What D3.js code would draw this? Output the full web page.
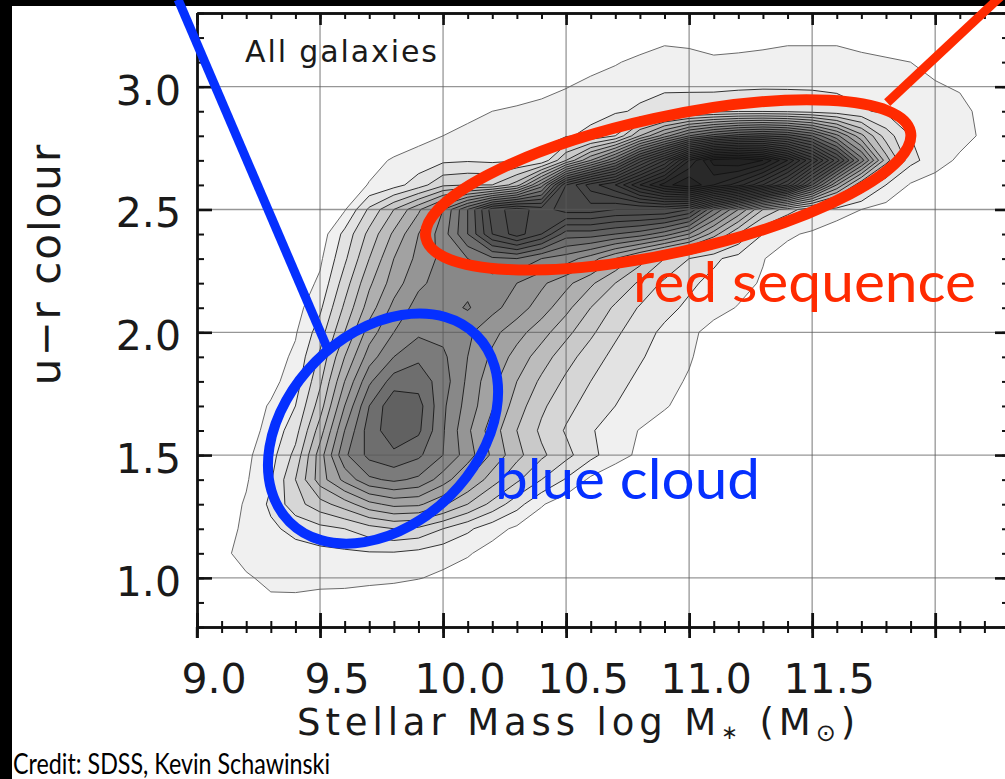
<!DOCTYPE html>
<html><head><meta charset="utf-8">
<script src="https://cdn.jsdelivr.net/npm/d3@7"></script>
<style>
html,body{margin:0;padding:0;background:#000;overflow:hidden;}
svg{display:block;}
</style></head><body>
<svg id="chart" width="1005" height="779"></svg>
<script>
// ---- grid axes of the density map (log stellar mass, u-r colour) ----
const massValues = [9.0,9.1,9.2,9.3,9.4,9.5,9.6,9.7,9.8,9.9,10.0,10.1,10.2,10.3,10.4,10.5,10.6,10.7,10.8,10.9,11.0,11.1,11.2,11.3,11.4,11.5,11.6,11.7,11.8,11.9,12.0,12.1,12.2,12.3];
const colourValues = [3.3,3.2,3.1,3.0,2.9,2.8,2.7,2.6,2.5,2.4,2.3,2.2,2.1,2.0,1.9,1.8,1.7,1.6,1.5,1.4,1.3,1.2,1.1,1.0,0.9,0.8];
// ---- galaxy density (in contour-level units), one row per colour value ----
const densityRows = [
[0,0,0,0,0,0,0,0,0,0, 0,0,0,0,0,0,0,0,0,0, 0,0,0,0,0,0,0,0,0,0, 0,0,0,0],
[0,0,0,0,0,0,0,0,0,0, 0,0,0,0,0,0,0,0,0.3,0.7, 0.6,0.5,0.5,0.6,0.7,0.7,0.7,0.4,0.2,0, 0,0,0,0],
[0,0,0,0,0,0,0,0,0,0, 0,0,0,0,0,0,0.6,0.9,1.3,1.6, 1.5,1.2,1.3,1.4,1.6,1.6,1.6,1.4,1.2,1.0, 0.7,0.3,0,0],
[0,0,0,0,0,0,0,0,0,0, 0,0,0,0.3,0.6,0.95,1.3,1.6,1.8,1.9, 1.85,1.8,1.85,1.9,1.9,1.9,1.85,1.7,1.6,1.4, 1.1,0.9,0.4,0],
[0,0,0,0,0,0,0,0,0,0.3, 0.6,0.8,1.0,1.2,1.4,1.6,1.75,1.9,2.1,2.3, 2.5,2.7,2.9,2.9,2.8,2.6,2.4,2.1,1.85,1.7, 1.5,1.3,0.7,0],
[0,0,0,0,0,0,0,0,0.4,0.7, 1.0,1.2,1.4,1.6,1.8,1.9,2.2,3.0,6,8.5, 11,12.5,13.5,14,13.5,12,9.3,6.3,3.5,2.0, 1.7,1.4,0.8,0],
[0,0,0,0,0,0,0,0.7,1.1,1.4, 1.8,1.9,1.8,1.9,2.2,5,8,11,15.5,19, 24,27.5,28,27,24,20,15.5,10.5,5.5,2.3, 1.5,0.8,0.3,0],
[0,0,0,0,0,0,0.5,1.05,1.6,2.5, 3.8,4,4,5.5,9.5,16,18.5,20,23,25.5, 27,25,23.5,21,18,13,8,4,2,0.9, 0.5,0.2,0,0],
[0,0,0,0,0,0.4,0.9,3.2,5,6.8, 9,12,15.5,16.5,15.5,16.5,16.5,16,16,16, 15,11,8,5,3.5,2.3,1.6,1.0,0.6,0.2, 0,0,0,0],
[0,0,0,0,0,0.4,2.3,4.3,6.2,8, 9.5,12,15,16.5,15,12.5,12.5,12,11.5,10.5, 9,6.5,4,2,1.2,0.8,0.3,0,0,0, 0,0,0,0],
[0,0,0,0,0.2,0.8,2.8,5,7,8.3, 9.3,10,10.8,11,10,9.5,8.5,7,5.5,4, 3,2.2,1.6,1.05,0.5,0,0,0,0,0, 0,0,0,0],
[0,0,0,0,0.3,1.2,3.5,5.8,7.5,8.8, 9.4,9.7,9.5,9,8.2,7.3,6.2,5,3.8,2.8, 2.2,1.7,1.3,0.9,0.4,0,0,0,0,0, 0,0,0,0],
[0,0,0,0,0.6,1.8,4.2,6.5,8.3,9.4, 9.6,10.1,9.3,8.5,7.5,6.3,5.0,3.8,2.9,2.3, 1.8,1.3,0.95,0.5,0,0,0,0,0,0, 0,0,0,0],
[0,0,0,0.3,0.9,2.5,5,7.5,9,9.8, 9.7,9.2,8.3,7.4,6.4,5.3,4.2,3.2,2.4,1.8, 1.2,0.7,0.3,0,0,0,0,0,0,0, 0,0,0,0],
[0,0,0,0.5,1.2,3.2,6,8.5,10,10.8, 10.2,9,7.8,6.6,5.5,4.4,3.5,2.7,2.1,1.6, 1.1,0.5,0,0,0,0,0,0,0,0, 0,0,0,0],
[0,0,0.2,0.7,1.5,3.8,7,9.8,11.5,11.6, 10.5,8.8,7.3,6,4.8,3.8,3.0,2.3,1.8,1.3, 0.9,0.4,0,0,0,0,0,0,0,0, 0,0,0,0],
[0,0,0.5,1.1,2.0,4.5,8,11,12.8,12.4, 10.2,8.6,7.1,5.5,4.2,3.3,2.6,2.0,1.6,1.1, 0.6,0.2,0,0,0,0,0,0,0,0, 0,0,0,0],
[0,0.1,0.6,1.3,2.6,5.5,9,11.5,12.6,12.2, 10.1,8.2,6.5,5,3.8,2.9,2.1,1.5,0.95,0.5, 0.1,0,0,0,0,0,0,0,0,0, 0,0,0,0],
[0,0.2,0.8,1.6,3.3,6.5,9.8,11.3,11.8,11.2, 10,8.5,6.8,5.3,4.2,3.3,2.3,1.4,0.8,0.3, 0,0,0,0,0,0,0,0,0,0, 0,0,0,0],
[0,0.4,0.9,1.9,4,6.5,8.3,9.8,10.2,9.8, 8.5,7,5.5,4.2,3,1.9,0.8,0.3,0,0, 0,0,0,0,0,0,0,0,0,0, 0,0,0,0],
[0,0.5,1.1,2.2,3.6,4.6,5.5,6.7,7.3,7.2, 6.2,5,3.7,2.4,1.1,0.4,0,0,0,0, 0,0,0,0,0,0,0,0,0,0, 0,0,0,0],
[0,0.6,1.2,1.8,2.3,2.7,3.0,3.6,4.0,3.8, 3.0,2.2,1.4,0.8,0.3,0,0,0,0,0, 0,0,0,0,0,0,0,0,0,0, 0,0,0,0],
[0,0.8,1.3,1.5,1.6,1.7,1.8,1.9,1.9,1.7, 1.4,1.1,0.6,0.2,0,0,0,0,0,0, 0,0,0,0,0,0,0,0,0,0, 0,0,0,0],
[0,0.4,0.9,1.2,1.3,1.3,1.3,1.25,1.2,1.05, 0.8,0.5,0.2,0,0,0,0,0,0,0, 0,0,0,0,0,0,0,0,0,0, 0,0,0,0],
[0,0,0.3,0.85,0.8,0.65,0.6,0.45,0.3,0.1, 0,0,0,0,0,0,0,0,0,0, 0,0,0,0,0,0,0,0,0,0, 0,0,0,0],
[0,0,0,0,0,0,0,0,0,0, 0,0,0,0,0,0,0,0,0,0, 0,0,0,0,0,0,0,0,0,0, 0,0,0,0]
];
const contourLevels = [1,2,3,4,5,6,7,8,9,10,11,12,13,14,15,16,17,18,19,20,21,22,23,24,25,26,27];
// ---- axes ----
const massTicksMajor = [9.0,9.5,10.0,10.5,11.0,11.5,12.0];
const massTickLabels = ["9.0","9.5","10.0","10.5","11.0","11.5"];
const colourTicksMajor = [1.0,1.5,2.0,2.5,3.0];
const colourTickLabels = ["1.0","1.5","2.0","2.5","3.0"];
// ---- annotations (data coordinates) ----
const blueCloud = {label:"blue cloud", cx:9.756, cy:1.608, rx:0.537, ry:0.386, angle:-45,
  lineFrom:[8.923,3.355], lineTo:[9.528,1.939], textAt:[10.211,1.322]};
const redSequence = {label:"red sequence", cx:10.915, cy:2.600, rx:1.008, ry:0.276, angle:-12.4,
  lineFrom:[11.805,2.935], lineTo:[12.305,3.404], textAt:[10.772,2.122]};

const W = 1005, H = 779;
const svg = d3.select("#chart");
const x = d3.scaleLinear().domain([9.0, 12.3]).range([197, 1009]);
const y = d3.scaleLinear().domain([0.8, 3.3]).range([627, 13]);

svg.append("rect").attr("width", W).attr("height", H).attr("fill", "#000");
svg.append("rect").attr("x", 12).attr("y", 6).attr("width", W - 12).attr("height", H - 6).attr("fill", "#fff");

svg.append("clipPath").attr("id", "plotclip").append("rect")
  .attr("x", x(9.0)).attr("y", y(3.3)).attr("width", x(12.3) - x(9.0)).attr("height", y(0.8) - y(3.3));

// ---- contours ----
const nx = massValues.length, ny = colourValues.length;
const gridX = d3.scaleLinear().domain([0, nx - 1]).range([massValues[0], massValues[nx - 1]]);
const gridY = d3.scaleLinear().domain([0, ny - 1]).range([colourValues[0], colourValues[ny - 1]]);
const proj = d3.geoTransform({point: function(px, py) {
  this.stream.point(x(gridX(px - 0.5)), y(gridY(py - 0.5)));
}});
const cpath = d3.geoPath(proj);
const contours = d3.contours().size([nx, ny]).thresholds(contourLevels)(densityRows.flat());
const shade = k => {
  const g = Math.round(k <= 13 ? 240 - 13 * (k - 1) : 84 - 3.6 * (k - 13));
  return `rgb(${g},${g},${g})`;
};

const plot = svg.append("g").attr("clip-path", "url(#plotclip)");
plot.append("g").selectAll("path").data(contours).join("path")
  .attr("d", cpath).attr("fill", d => shade(d.value)).attr("stroke", "none");
plot.append("g").selectAll("path").data(contours).join("path")
  .attr("d", cpath).attr("fill", "none")
  .attr("stroke", d => d.value === 1 ? "#6a6a6a" : "#111")
  .attr("stroke-width", d => d.value === 1 ? 1 : 0.85)
  .attr("stroke-linejoin", "round");

// ---- grid lines ----
const grid = plot.append("g").attr("stroke", "#585858").attr("stroke-opacity", 0.63).attr("stroke-width", 1.3);
grid.selectAll("line.v").data(massTicksMajor.slice(1)).join("line").attr("class", "v")
  .attr("x1", d => x(d)).attr("x2", d => x(d)).attr("y1", y(3.3)).attr("y2", y(0.8));
grid.selectAll("line.h").data(colourTicksMajor).join("line").attr("class", "h")
  .attr("x1", x(9.0)).attr("x2", x(12.3)).attr("y1", d => y(d)).attr("y2", d => y(d));

// ---- axes (ticks inward) ----
function styleAxis(g, w) {
  g.select(".domain").attr("stroke", "#111").attr("stroke-width", 2.4);
  g.selectAll(".tick line").attr("stroke", "#111").attr("stroke-width", w);
  g.selectAll(".tick text").remove();
}
const minorX = x.ticks(33), minorY = y.ticks(25);
const axL = svg.append("g").attr("transform", `translate(${x(9.0)},0)`);
axL.call(d3.axisLeft(y).tickValues(minorY).tickSize(-7).tickSizeOuter(0)); styleAxis(axL, 2);
const axL2 = svg.append("g").attr("transform", `translate(${x(9.0)},0)`);
axL2.call(d3.axisLeft(y).tickValues(colourTicksMajor).tickSize(-15).tickSizeOuter(0)); styleAxis(axL2, 2.6);
const axT = svg.append("g").attr("transform", `translate(0,${y(3.3)})`);
axT.call(d3.axisTop(x).tickValues(minorX).tickSize(-6).tickSizeOuter(0)); styleAxis(axT, 2);
const axT2 = svg.append("g").attr("transform", `translate(0,${y(3.3)})`);
axT2.call(d3.axisTop(x).tickValues(massTicksMajor).tickSize(-12).tickSizeOuter(0)); styleAxis(axT2, 2.6);
const axR = svg.append("g").attr("transform", `translate(${x(12.3)},0)`);
axR.call(d3.axisRight(y).tickValues(minorY).tickSize(-7).tickSizeOuter(0)); styleAxis(axR, 2);
const axR2 = svg.append("g").attr("transform", `translate(${x(12.3)},0)`);
axR2.call(d3.axisRight(y).tickValues(colourTicksMajor).tickSize(-14).tickSizeOuter(0)); styleAxis(axR2, 2.6);
const axB = svg.append("g").attr("transform", `translate(0,${y(0.8)})`);
axB.call(d3.axisBottom(x).tickValues(minorX).tickSize(0).tickSizeOuter(0)); styleAxis(axB, 2);
axB.selectAll(".tick line").attr("y1", -6).attr("y2", 6);
const axB2 = svg.append("g").attr("transform", `translate(0,${y(0.8)})`);
axB2.call(d3.axisBottom(x).tickValues(massTicksMajor).tickSize(0).tickSizeOuter(0)); styleAxis(axB2, 2.8);
axB2.selectAll(".tick line").attr("y1", -14).attr("y2", 11);
svg.append("line").attr("x1", x(9.0)).attr("x2", x(9.0)).attr("y1", y(0.8)).attr("y2", y(0.8) + 11)
  .attr("stroke", "#111").attr("stroke-width", 2.4);

// ---- tick labels and titles ----
const chartFont = "'DejaVu Sans', sans-serif";
svg.append("g").selectAll("text").data(massTickLabels).join("text")
  .attr("x", (d, i) => x(massTicksMajor[i]) + 17).attr("y", y(0.8) + 66)
  .attr("text-anchor", "middle").attr("font-family", chartFont).attr("font-size", 41)
  .attr("fill", "#1a1a1a").text(d => d);
svg.append("g").selectAll("text").data(colourTickLabels).join("text")
  .attr("x", x(9.0) - 16).attr("y", (d, i) => y(colourTicksMajor[i]) + 18)
  .attr("text-anchor", "end").attr("font-family", chartFont).attr("font-size", 41)
  .attr("fill", "#1a1a1a").text(d => d);

const xt = svg.append("text").attr("x", 297).attr("y", 735).attr("font-family", chartFont)
  .attr("font-size", 37).attr("letter-spacing", 4.9).attr("fill", "#1a1a1a");
xt.append("tspan").text("Stellar Mass log M");
xt.append("tspan").attr("font-size", 20).attr("dy", 4).text("\u2217");
xt.append("tspan").attr("dy", -4).text(" (M");
xt.append("tspan").attr("font-size", 24).attr("dy", 6).text("\u2299");
xt.append("tspan").attr("dy", -6).text(")");

svg.append("text").attr("transform", "translate(60,264) rotate(-90)").attr("text-anchor", "middle")
  .attr("font-family", chartFont).attr("font-size", 42).attr("letter-spacing", 2)
  .attr("fill", "#1a1a1a").text("u\u2212r colour");

svg.append("text").attr("x", 245).attr("y", 62).attr("font-family", chartFont).attr("font-size", 30)
  .attr("textLength", 192).attr("lengthAdjust", "spacing").attr("fill", "#1a1a1a").text("All galaxies");

svg.append("text").attr("x", 13).attr("y", 774).attr("font-family", "Lato, sans-serif").attr("font-size", 29)
  .attr("textLength", 317).attr("lengthAdjust", "spacingAndGlyphs").attr("fill", "#000")
  .text("Credit: SDSS, Kevin Schawinski");

// ---- annotations ----
function annotate(a, color, sw, textLen) {
  const g = svg.append("g");
  const rxPx = x(a.cx + a.rx) - x(a.cx), ryPx = x(a.cx + a.ry) - x(a.cx);
  g.append("line").attr("x1", x(a.lineFrom[0])).attr("y1", y(a.lineFrom[1]))
    .attr("x2", x(a.lineTo[0])).attr("y2", y(a.lineTo[1]))
    .attr("stroke", color).attr("stroke-width", 9);
  g.append("ellipse").attr("transform", `translate(${x(a.cx)},${y(a.cy)}) rotate(${a.angle})`)
    .attr("rx", rxPx).attr("ry", ryPx).attr("fill", "none").attr("stroke", color).attr("stroke-width", sw);
  g.append("text").attr("x", x(a.textAt[0])).attr("y", y(a.textAt[1]))
    .attr("font-family", "Lato, sans-serif").attr("font-size", 57).attr("fill", color)
    .attr("textLength", textLen).attr("lengthAdjust", "spacingAndGlyphs").text(a.label);
}
annotate(blueCloud, "#0530ff", 10, 265);
annotate(redSequence, "#ff2a00", 11, 343);
</script>
</body></html>
